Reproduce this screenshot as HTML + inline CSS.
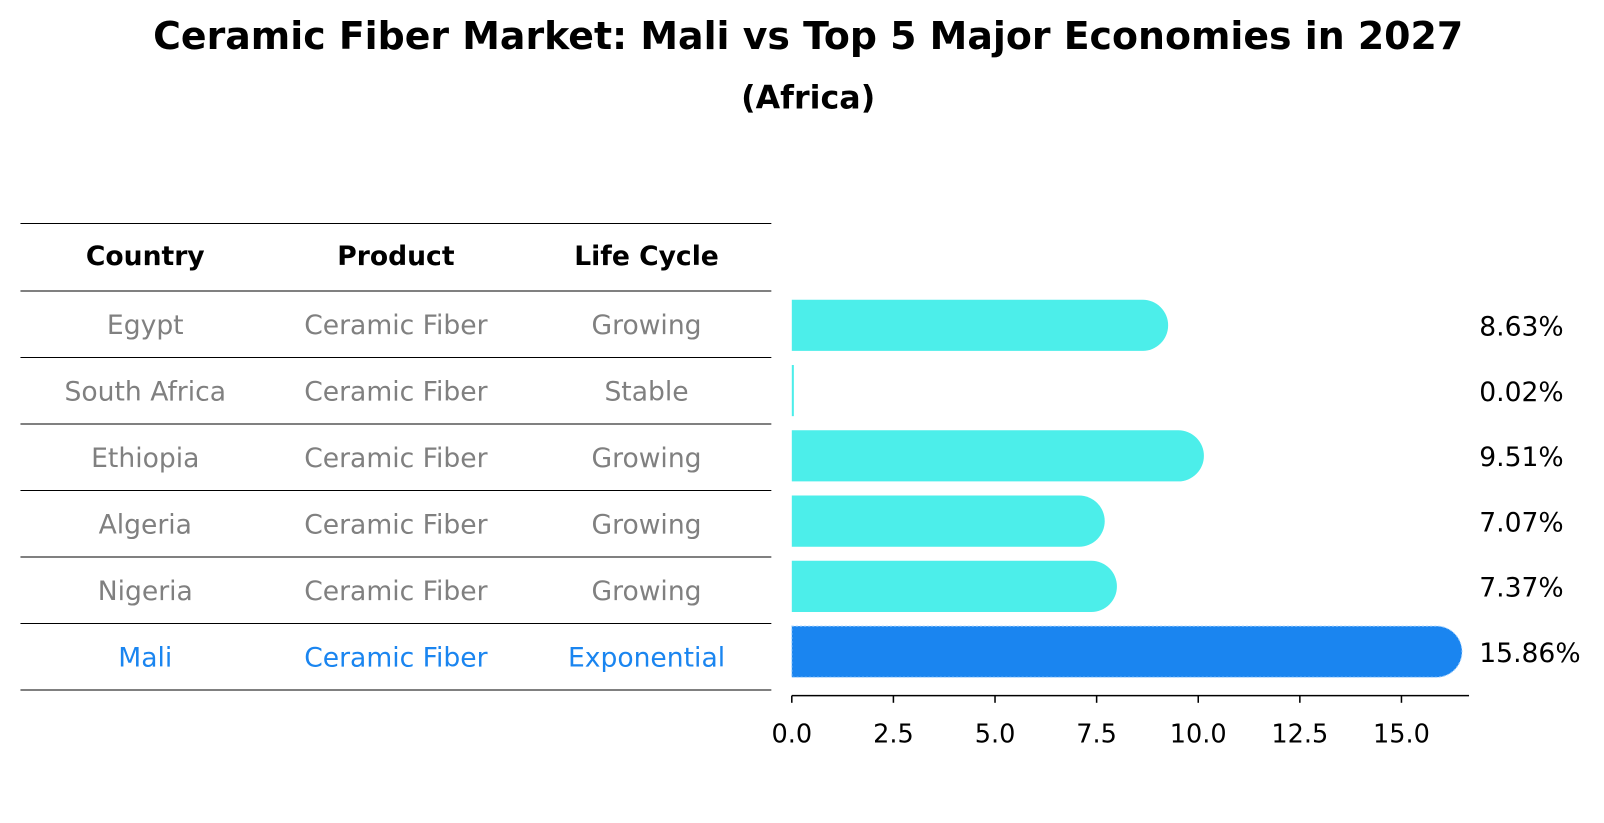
<!DOCTYPE html>
<html><head><meta charset="utf-8">
<style>
body{margin:0;background:#fff;font-family:"DejaVu Sans","Liberation Sans",sans-serif;}
#outer{width:1604px;height:823px;overflow:hidden;position:relative;}
#wrap{position:relative;width:1568px;height:805px;transform:scale(1.023);transform-origin:0 0;}
.t{position:absolute;white-space:nowrap;}
</style></head>
<body>
<div id="outer">
<div id="wrap">
<div class="t" style="left:0;width:1580px;text-align:center;top:14px;font-size:37px;line-height:44px;font-weight:bold;">Ceramic Fiber Market: Mali vs Top 5 Major Economies in 2027</div>
<div class="t" style="left:0;width:1580px;text-align:center;top:77px;font-size:31px;line-height:38px;font-weight:bold;">(Africa)</div>
<svg id="svg" width="1568" height="805" style="position:absolute;left:0;top:0"></svg>
</div></div>
<script>
const countries=["Egypt","South Africa","Ethiopia","Algeria","Nigeria","Mali"];
const products=["Ceramic Fiber","Ceramic Fiber","Ceramic Fiber","Ceramic Fiber","Ceramic Fiber","Ceramic Fiber"];
const lifeCycles=["Growing","Stable","Growing","Growing","Growing","Exponential"];
const values=[8.63,0.02,9.51,7.07,7.37,15.86];
const tickValues=[0,2.5,5,7.5,10,12.5,15];
const highlight="Mali";

const NS="http://www.w3.org/2000/svg";
const svg=document.getElementById('svg');
function mk(tag,attrs,parent){const e=document.createElementNS(NS,tag);for(const k in attrs)e.setAttribute(k,attrs[k]);(parent||svg).appendChild(e);return e;}
const x0=774,unit=39.73;
const xs=v=>x0+v*unit;
const rowTop=284,rowH=65;
const rowY=i=>rowTop+rowH*i+rowH/2;
const barY=i=>318+63.8*i;
const colX=[142,387,632];

let l=mk('line',{x1:20,x2:754,y1:218.5,y2:218.5,stroke:'#000','stroke-width':1});


for(let i=0;i<=countries.length;i++){
  const y=rowTop+rowH*i+0.5;
  const ln=mk('line',{x1:20,x2:754,y1:y,y2:y,stroke:'#000','stroke-width':1});
  
  
}
["Country","Product","Life Cycle"].forEach((h,j)=>{
  const t=mk('text',{x:colX[j],y:259,'text-anchor':'middle','font-size':26,'font-weight':'bold',fill:'#000'});
  t.textContent=h;
  
  
});
countries.forEach((c,i)=>{
  const col=c===highlight?'#1a85f0':'#808080';
  [c,products[i],lifeCycles[i]].forEach((s,j)=>{
    const t=mk('text',{x:colX[j],y:rowY(i)+10,'text-anchor':'middle','font-size':26,fill:col});
    t.textContent=s;
    
    
  });
  const y=barY(i),h=50,r=25;
  const xe=xs(values[i]);
  const fill=c===highlight?'#1a85f0':'#4ceeea';
  let d;
  if(values[i]<0.5){d=`M${x0},${y-h/2}h2v${h}h-2z`;}
  else d=`M${x0},${y-h/2}H${xe}A${r},${r} 0 0 1 ${xe},${y+h/2}H${x0}Z`;
  const p=mk('path',{d:d,fill:fill});
  if(c===highlight){p.setAttribute('stroke','#9fd0ff');p.setAttribute('stroke-width','1');p.setAttribute('stroke-dasharray','2 2');}
  
  
  const vt=mk('text',{x:1446,y:y+10,'font-size':26,fill:'#000'});
  vt.textContent=values[i].toFixed(2)+'%';
  
  
});
const ax=mk('line',{x1:x0,x2:1436,y1:680,y2:680,stroke:'#000','stroke-width':1.5});


tickValues.forEach(v=>{
  const tk=mk('line',{x1:xs(v),x2:xs(v),y1:680,y2:687,stroke:'#000','stroke-width':1.5});
  
  
  const tl=mk('text',{x:xs(v),y:726,'text-anchor':'middle','font-size':25,fill:'#000'});
  tl.textContent=v.toFixed(1);
  
  
});
</script>
</body></html>
